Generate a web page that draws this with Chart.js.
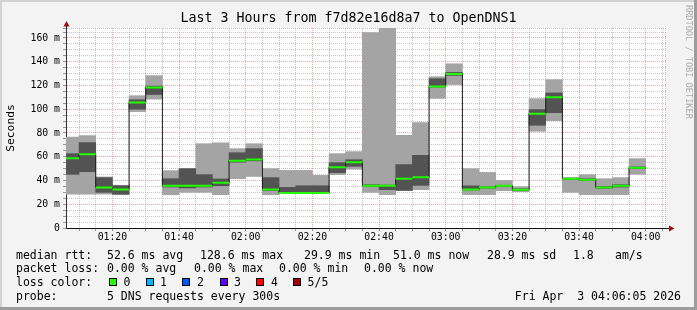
<!DOCTYPE html>
<html>
<head>
<meta charset="utf-8">
<script src="https://cdn.jsdelivr.net/npm/chart.js@4.4.1/dist/chart.umd.min.js"></script>
<style>
  html, body { margin: 0; padding: 0; background: #f3f3f3; }
  #wrap { position: relative; width: 697px; height: 310px; overflow: hidden; }
  #chart { position: absolute; left: 0; top: 0; }
  .lg { position: absolute; font-family: 'DejaVu Sans Mono', monospace; font-size: 11.5px; line-height: 14px; white-space: pre; color: #000; }
  .box { position: absolute; width: 6px; height: 6px; border: 1px solid #000; }
</style>
</head>
<body>
<div id="wrap">
  <canvas id="chart" width="697" height="310"></canvas>
  <div id="legend"></div>
</div>
<script>
// 5 minute slots (start time of each step)
const slots = ['01:05','01:10','01:15','01:20','01:25','01:30','01:35','01:40','01:45','01:50',
               '01:55','02:00','02:05','02:10','02:15','02:20','02:25','02:30','02:35','02:40',
               '02:45','02:50','02:55','03:00','03:05','03:10','03:15','03:20','03:25','03:30',
               '03:35','03:40','03:45','03:50','03:55'];

// sorted ping values per slot (ms)
const pingMin  = [28.4,28.4,28.5,28.0,98.0,108.5,28.0,30.0,30.0,28.0,41.5,43.4,28.0,29.2,29.2,29.2,44.9,49.5,30.0,28.1,
                  31.5,32.3,109.1,120.8,28.1,28.1,31.4,30.6,81.4,90.4,30.0,28.1,28.1,28.1,45.2];
const pingLow  = [45.2,47.4,30.0,28.5,100.0,112.4,34.5,33.7,34.5,35.6,55.4,56.5,31.6,29.3,29.3,29.3,46.6,51.9,35.0,32.3,
                  31.7,35.9,118.5,128.5,32.0,33.5,35.0,31.5,86.5,97.1,41.0,40.0,33.5,34.5,50.0];
const median   = [58.7,62.0,34.2,32.5,105.7,118.3,35.6,35.6,35.6,38.0,56.7,57.6,32.5,29.5,29.5,29.5,51.1,55.3,35.6,35.6,
                  41.5,42.7,119.2,129.6,32.5,34.0,35.6,32.3,96.3,110.0,41.5,40.7,34.0,35.6,50.8];
const pingHigh = [62.6,71.9,42.4,35.6,108.0,119.5,41.5,49.9,44.9,41.3,63.4,66.8,42.4,34.2,35.6,35.6,55.0,57.5,36.5,36.2,
                  53.4,61.2,125.7,131.0,35.5,34.8,36.0,33.0,99.7,113.7,42.0,41.5,35.0,36.5,51.5];
const pingMax  = [76.6,77.8,43.0,36.0,111.4,128.3,48.3,50.2,71.0,71.8,66.8,71.0,50.0,48.5,48.5,44.3,62.6,64.3,164.5,168.7,
                  78.0,88.7,127.4,138.3,50.0,46.8,40.1,34.8,108.9,124.9,42.4,44.9,41.5,42.4,58.4];

const xTickLabels = ['01:20','01:40','02:00','02:20','02:40','03:00','03:20','03:40','04:00'];
const yTickLabels = ['0','20 m','40 m','60 m','80 m','100 m','120 m','140 m','160 m'];

const STEP = 5;
const toMin = s => { const [h, m] = s.split(':').map(Number); return h * 60 + m; };
const tMin = toMin('01:06') + 5 / 60;   // 01:06:05
const tMax = tMin + 180;                // 04:06:05
const yMax = 168.4;

const starts = slots.map(toMin);
const lightData = starts.map((t, i) => ({ x: t + STEP / 2, y: [pingMin[i], pingMax[i]] }));
const darkData = starts.map((t, i) => ({ x: t + STEP / 2, y: [pingLow[i], pingHigh[i]] }));
const medLine = starts.map((t, i) => ({ x: t, y: median[i] }));
medLine.push({ x: starts[starts.length - 1] + STEP, y: median[median.length - 1] });
const greenLine = [];
starts.forEach((t, i) => {
  greenLine.push({ x: t, y: median[i] }, { x: t + STEP, y: median[i] }, { x: t + STEP, y: null });
});

const xTickVals = [];
for (let v = Math.ceil(tMin / STEP) * STEP; v < tMax; v += STEP) xTickVals.push(v);
const yTickVals = [];
for (let v = 0; v < yMax; v += 5) yTickVals.push(v);
yTickVals.push(yMax);

const MONO = "'DejaVu Sans Mono', monospace";
const RED = 'rgba(235, 90, 90, 0.55)';
const GRAY = 'rgba(150, 150, 150, 0.55)';

const framePlugin = {
  id: 'frame',
  beforeDraw(chart) {
    const { ctx, chartArea: a } = chart;
    ctx.save();
    ctx.fillStyle = '#f3f3f3';
    ctx.fillRect(0, 0, chart.width, chart.height);
    ctx.fillStyle = '#ffffff';
    ctx.fillRect(a.left, a.top, a.right - a.left, a.bottom - a.top);
    ctx.restore();
  },
  beforeDatasetsDraw(chart) {
    const { ctx, chartArea: a } = chart;
    ctx.save();
    ctx.strokeStyle = GRAY;
    ctx.setLineDash([1, 1]);
    ctx.beginPath();
    ctx.moveTo(a.right - 0.5, a.top);
    ctx.lineTo(a.right - 0.5, a.bottom);
    ctx.stroke();
    ctx.restore();
  },
  afterDraw(chart) {
    const { ctx, chartArea: a } = chart;
    ctx.save();
    // axis extensions + arrows
    ctx.strokeStyle = '#222';
    ctx.lineWidth = 1;
    ctx.beginPath();
    ctx.moveTo(a.left + 0.5, a.top);
    ctx.lineTo(a.left + 0.5, a.top - 3);
    ctx.moveTo(a.right, a.bottom + 0.5);
    ctx.lineTo(a.right + 4, a.bottom + 0.5);
    ctx.stroke();
    ctx.fillStyle = '#9b1010';
    ctx.beginPath();
    ctx.moveTo(a.left + 0.5, a.top - 7);
    ctx.lineTo(a.left - 2.5, a.top - 1.5);
    ctx.lineTo(a.left + 3.5, a.top - 1.5);
    ctx.closePath();
    ctx.fill();
    ctx.beginPath();
    ctx.moveTo(a.right + 8.5, a.bottom + 0.5);
    ctx.lineTo(a.right + 3, a.bottom - 2.5);
    ctx.lineTo(a.right + 3, a.bottom + 3.5);
    ctx.closePath();
    ctx.fill();
    // watermark
    ctx.translate(688, 5);
    ctx.rotate(Math.PI / 2);
    ctx.font = '8.6px ' + MONO;
    ctx.fillStyle = '#adadad';
    ctx.textBaseline = 'middle';
    ctx.fillText('RRDTOOL / TOBI OETIKER', 0, 0);
    ctx.restore();
    // frame
    ctx.save();
    ctx.fillStyle = '#d2d2d2';
    ctx.fillRect(0, 0, chart.width, 2);
    ctx.fillRect(0, 0, 2, chart.height);
    ctx.fillStyle = '#9c9c9c';
    ctx.fillRect(chart.width - 3, 0, 3, chart.height);
    ctx.fillRect(0, chart.height - 3, chart.width, 3);
    ctx.restore();
  }
};

new Chart(document.getElementById('chart'), {
  type: 'bar',
  data: {
    datasets: [
      { label: 'smoke', data: lightData, backgroundColor: '#a4a4a4', borderWidth: 0, grouped: false,
        barPercentage: 1, categoryPercentage: 1, order: 4, clip: 0 },
      { label: 'smoke2', data: darkData, backgroundColor: '#535353', borderWidth: 0, grouped: false,
        barPercentage: 1, categoryPercentage: 1, order: 3, clip: 0 },
      { type: 'line', label: 'median', data: medLine, borderColor: '#1a1a1a', borderWidth: 1,
        stepped: 'before', pointRadius: 0, fill: false, order: 2, clip: 0 },
      { type: 'line', label: 'loss 0', data: greenLine, borderColor: '#22ff00', borderWidth: 2,
        pointRadius: 0, fill: false, spanGaps: false, borderCapStyle: 'butt', order: 1, clip: 0 }
    ]
  },
  options: {
    responsive: false,
    animation: false,
    events: [],
    layout: { padding: 0 },
    plugins: {
      legend: { display: false },
      tooltip: { enabled: false },
      title: {
        display: true,
        text: 'Last 3 Hours from f7d82e16d8a7 to OpenDNS1',
        color: '#000',
        font: { family: MONO, size: 13.3, weight: 'normal', lineHeight: '16px' },
        padding: { top: 11, bottom: 1 }
      }
    },
    scales: {
      x: {
        type: 'linear', min: tMin, max: tMax, offset: false,
        grid: { offset: false, color: c => (c.tick && Math.abs(c.tick.value % 20) < 1e-6) ? RED : GRAY,
                tickLength: 3, tickColor: '#999', tickBorderDash: [] },
        border: { color: '#111', width: 1, dash: [1, 1] },
        ticks: {
          autoSkip: false, maxRotation: 0, padding: 1, color: '#000',
          font: { family: MONO, size: 9.8 },
          callback: v => xTickLabels.find(s => toMin(s) === v) || ''
        },
        afterBuildTicks: s => { s.ticks = xTickVals.map(v => ({ value: v })); },
        afterFit: s => { s.height = 82; }
      },
      y: {
        min: 0, max: yMax,
        grid: { color: c => (c.tick && Math.abs(c.tick.value % 20) < 1e-6) ? RED : GRAY,
                tickLength: 3, tickColor: '#999', tickBorderDash: [] },
        border: { color: '#333', width: 1, dash: [1, 1] },
        ticks: {
          autoSkip: false, padding: 3, color: '#000',
          font: { family: MONO, size: 9.8 },
          callback: v => (Math.abs(v % 20) < 1e-6 ? yTickLabels[Math.round(v / 20)] : '')
        },
        title: { display: true, text: 'Seconds', color: '#000',
                 font: { family: MONO, size: 11.3 }, padding: { top: 4, bottom: 0 } },
        afterBuildTicks: s => { s.ticks = yTickVals.map(v => ({ value: v })); },
        afterFit: s => { s.width = 66; }
      },
      yR: {
        position: 'right', display: true,
        grid: { display: false, drawOnChartArea: false },
        border: { display: false },
        ticks: { display: false },
        afterFit: s => { s.width = 31; }
      }
    }
  },
  plugins: [framePlugin]
});

// legend rows below the graph
const legendRows = [
  { y: 255, items: [[16, 'median rtt:'], [107, '52.6 ms avg'], [200, '128.6 ms max'], [304, '29.9 ms min'],
                    [393, '51.0 ms now'], [487, '28.9 ms sd'], [573, '1.8'], [615, 'am/s']] },
  { y: 268, items: [[16, 'packet loss:'], [107, '0.00 % avg'], [194, '0.00 % max'], [279, '0.00 % min'],
                    [364, '0.00 % now']] },
  { y: 282, items: [[16, 'loss color:'], [123.6, '0'], [160, '1'], [197, '2'], [234, '3'], [271, '4'], [307.6, '5/5']] },
  { y: 296, items: [[16, 'probe:'], [107, '5 DNS requests every 300s']] }
];
const lossColors = [[109, '#22ff00'], [146, '#00b8ff'], [182, '#0059ff'], [219.6, '#5e00ff'], [256, '#ff0000'], [293, '#a00000']];

const lg = document.getElementById('legend');
legendRows.forEach(r => {
  r.items.forEach(([x, t]) => {
    const d = document.createElement('div');
    d.className = 'lg';
    d.style.left = x + 'px';
    d.style.top = (r.y - 7) + 'px';
    d.textContent = t;
    lg.appendChild(d);
  });
});
lossColors.forEach(([x, c]) => {
  const b = document.createElement('div');
  b.className = 'box';
  b.style.left = x + 'px';
  b.style.top = '278px';
  b.style.background = c;
  lg.appendChild(b);
});
const dt = document.createElement('div');
dt.className = 'lg';
dt.style.right = '16px';
dt.style.top = (296 - 7) + 'px';
dt.textContent = 'Fri Apr  3 04:06:05 2026';
lg.appendChild(dt);
</script>
</body>
</html>
